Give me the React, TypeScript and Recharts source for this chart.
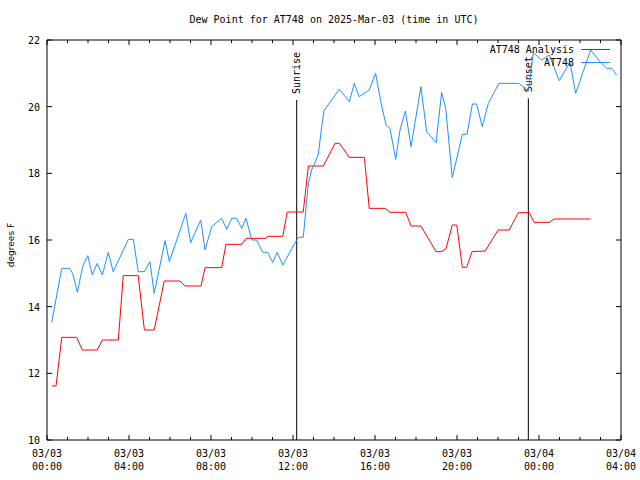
import React from 'react';
import { LineChart, Line, XAxis, YAxis, ReferenceLine } from 'recharts';

const MONO = '"DejaVu Sans Mono", "Liberation Mono", monospace';
const SANS = '"DejaVu Sans", sans-serif';

// x axis: hours since 03/03 00:00 UTC
const hourTicks = Array.from({ length: 29 }, (_, i) => i);
const majorHours = [0, 4, 8, 12, 16, 20, 24, 28];
const dateLabels = ['03/03', '03/03', '03/03', '03/03', '03/03', '03/03', '03/04', '03/04'];
const timeLabels = ['00:00', '04:00', '08:00', '12:00', '16:00', '20:00', '00:00', '04:00'];
const yTicks = [10, 12, 14, 16, 18, 20, 22];

const sunriseHour = 12.18;
const sunsetHour = 23.48;

// AT748 observations
const stationHours = [
  0.23, 0.72, 1.09, 1.25, 1.48, 1.74, 1.99, 2.21, 2.45, 2.7, 2.99, 3.23, 3.97, 4.21, 4.45, 4.75,
  5.02, 5.23, 5.76, 5.97, 6.77, 7.01, 7.5, 7.71, 8.03, 8.52, 8.77, 9.01, 9.25, 9.5, 9.71, 9.99,
  10.23, 10.52, 10.77, 11.01, 11.23, 11.5, 12.18, 12.26, 12.5, 12.75, 12.91, 13.23, 13.4, 13.51,
  14.26, 14.75, 14.99, 15.23, 15.72, 16.03, 16.28, 16.54, 16.73, 17.01, 17.22, 17.48, 17.76,
  18.24, 18.52, 18.98, 19.25, 19.45, 19.77, 20.26, 20.49, 20.75, 20.96, 21.23, 21.53, 22.05,
  23.02, 23.48, 23.72, 24.13, 24.5, 24.99, 25.51, 25.79, 26.52, 26.98, 27.3, 27.55, 27.79,
];
const stationDew = [
  13.53, 15.15, 15.15, 15.0, 14.43, 15.2, 15.53, 14.95, 15.3, 14.95, 15.63, 15.05, 16.02, 16.02,
  15.05, 15.05, 15.35, 14.4, 15.98, 15.35, 16.8, 15.92, 16.6, 15.7, 16.4, 16.65, 16.32, 16.65,
  16.65, 16.35, 16.65, 16.0, 16.0, 15.63, 15.63, 15.33, 15.63, 15.25, 16.0, 16.08, 16.08, 17.7,
  18.1, 18.55, 19.4, 19.88, 20.52, 20.15, 20.7, 20.3, 20.5, 21.0, 20.15, 19.45, 19.35, 18.42,
  19.3, 19.87, 18.8, 20.6, 19.25, 18.92, 20.43, 19.95, 17.87, 19.17, 19.17, 20.08, 20.08, 19.4,
  20.1, 20.7, 20.7, 20.47, 21.62, 21.4, 21.55, 20.78, 21.33, 20.4, 21.7, 21.35, 21.15, 21.15,
  20.95,
];

// AT748 analysis
const analysisHours = [
  0.23, 0.44, 0.72, 1.45, 1.72, 2.45, 2.7, 3.48, 3.72, 4.45, 4.75, 5.23, 5.72, 6.49, 6.73, 7.51,
  7.71, 8.52, 8.73, 9.5, 9.71, 10.68, 10.75, 11.5, 11.72, 12.5, 12.75, 13.48, 14.05, 14.26, 14.75,
  15.48, 15.72, 16.49, 16.73, 17.5, 17.76, 18.24, 18.98, 19.22, 19.46, 19.77, 19.99, 20.26, 20.47,
  20.73, 21.37, 22.01, 22.55, 22.99, 23.53, 23.76, 24.5, 24.74, 26.52,
];
const analysisDew = [
  11.62, 11.62, 13.08, 13.08, 12.7, 12.7, 13.0, 13.0, 14.93, 14.93, 13.3, 13.3, 14.77, 14.77,
  14.62, 14.62, 15.17, 15.17, 15.87, 15.87, 16.05, 16.05, 16.11, 16.11, 16.84, 16.84, 18.22, 18.22,
  18.9, 18.9, 18.48, 18.48, 16.95, 16.95, 16.83, 16.83, 16.42, 16.42, 15.65, 15.65, 15.73, 16.45,
  16.45, 15.18, 15.18, 15.65, 15.67, 16.3, 16.3, 16.82, 16.82, 16.53, 16.53, 16.63, 16.63,
];

const stationData = stationHours.map((h, i) => ({ h, v: stationDew[i] }));
const analysisData = analysisHours.map((h, i) => ({ h, v: analysisDew[i] }));

const BottomTick = ({ x, y, payload }: any) => {
  const i = majorHours.indexOf(payload.value);
  return (
    <g>
      <line x1={x} x2={x} y1={y} y2={y - (i >= 0 ? 5 : 3)} stroke="#000" />
      {i >= 0 && (
        <text x={x} y={y} textAnchor="middle" fontFamily={MONO} fontSize={10} fill="#000">
          <tspan x={x} dy={17}>{dateLabels[i]}</tspan>
          <tspan x={x} dy={13}>{timeLabels[i]}</tspan>
        </text>
      )}
    </g>
  );
};

const TopTick = ({ x, y, payload }: any) => {
  const major = majorHours.includes(payload.value);
  return <line x1={x} x2={x} y1={y} y2={y + (major ? 5 : 3)} stroke="#000" />;
};

const LeftTick = ({ x, y, payload }: any) => (
  <g>
    <line x1={x} x2={x + 5} y1={y} y2={y} stroke="#000" />
    <text x={x - 7} y={y} dy={4} textAnchor="end" fontFamily={MONO} fontSize={10} fill="#000">
      {payload.value}
    </text>
  </g>
);

const RightTick = ({ x, y }: any) => <line x1={x} x2={x - 5} y1={y} y2={y} stroke="#000" />;

const YTitle = ({ viewBox }: any) => {
  const cx = viewBox.x + 11;
  const cy = viewBox.y + viewBox.height / 2 + 5;
  return (
    <text x={cx} y={cy} transform={`rotate(-90, ${cx}, ${cy})`} textAnchor="middle" dy={3}
      fontFamily={SANS} fontSize={9} fill="#000">
      degrees F
    </text>
  );
};

const SunLabel = ({ viewBox, text }: any) => {
  const x = viewBox.x;
  const y = viewBox.y - 6;
  return (
    <text x={x} y={y} transform={`rotate(-90, ${x}, ${y})`} textAnchor="start" dy={3.5}
      fontFamily={MONO} fontSize={10} fill="#000">
      {text}
    </text>
  );
};

export default function App() {
  return (
    <div style={{ position: 'absolute', left: 0, top: 0, width: 640, height: 480, background: '#fff' }}>
      <LineChart width={640} height={480} margin={{ top: 10, right: 0, bottom: 0, left: 0 }}>
        <XAxis xAxisId="b" dataKey="h" type="number" domain={[0, 28]} ticks={hourTicks} interval={0}
          height={40} tickSize={0} tickMargin={0} tickLine={false} axisLine={{ stroke: '#000' }}
          tick={<BottomTick />} allowDataOverflow />
        <XAxis xAxisId="t" orientation="top" dataKey="h" type="number" domain={[0, 28]} ticks={hourTicks}
          interval={0} height={30} tickSize={0} tickMargin={0} tickLine={false} axisLine={{ stroke: '#000' }}
          tick={<TopTick />} allowDataOverflow />
        <YAxis yAxisId="l" type="number" domain={[10, 22]} ticks={yTicks} interval={0} width={47}
          tickSize={0} tickMargin={0} tickLine={false} axisLine={{ stroke: '#000' }} tick={<LeftTick />}
          label={<YTitle />} allowDataOverflow />
        <YAxis yAxisId="r" orientation="right" type="number" domain={[10, 22]} ticks={yTicks} interval={0}
          width={19} tickSize={0} tickMargin={0} tickLine={false} axisLine={{ stroke: '#000' }}
          tick={<RightTick />} allowDataOverflow />
        <ReferenceLine xAxisId="b" yAxisId="l" stroke="#000" ifOverflow="visible"
          segment={[{ x: sunriseHour, y: 10 }, { x: sunriseHour, y: 20.2 }]}
          label={<SunLabel text="Sunrise" />} />
        <ReferenceLine xAxisId="b" yAxisId="l" stroke="#000" ifOverflow="visible"
          segment={[{ x: sunsetHour, y: 10 }, { x: sunsetHour, y: 20.25 }]}
          label={<SunLabel text="Sunset" />} />
        <Line xAxisId="b" yAxisId="l" data={analysisData} dataKey="v" type="linear" stroke="#ff0000"
          strokeWidth={1} dot={false} isAnimationActive={false} />
        <Line xAxisId="b" yAxisId="l" data={stationData} dataKey="v" type="linear" stroke="#1e90ff"
          strokeWidth={1} dot={false} isAnimationActive={false} />
      </LineChart>
      <svg width={640} height={70} style={{ position: 'absolute', left: 0, top: 0 }}>
        <g fontFamily={MONO} fontSize={10} fill="#000">
          <text x={334} y={23} textAnchor="middle">Dew Point for AT748 on 2025-Mar-03 (time in UTC)</text>
          <text x={574} y={53} textAnchor="end">AT748 Analysis</text>
          <line x1={581} x2={610} y1={49.5} y2={49.5} stroke="#ff0000" />
          <text x={574} y={66} textAnchor="end">AT748</text>
          <line x1={581} x2={610} y1={62.5} y2={62.5} stroke="#1e90ff" />
        </g>
      </svg>
    </div>
  );
}
